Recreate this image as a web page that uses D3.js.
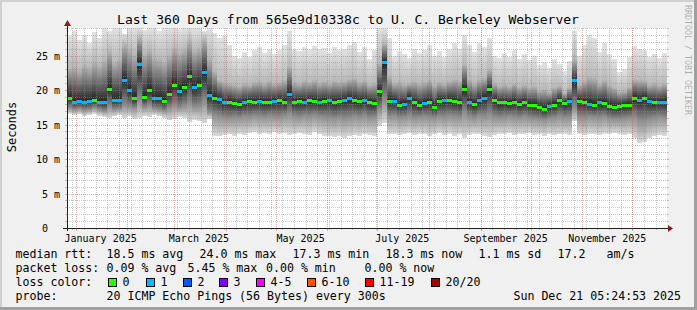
<!DOCTYPE html>
<html><head><meta charset="utf-8">
<script src="https://cdn.jsdelivr.net/npm/d3@7"></script>
<style>html,body{margin:0;padding:0;background:#f0f0f0;} svg{display:block;} text{white-space:pre;}</style>
</head><body>
<script>
// ---------------- data ----------------
const startTime = Date.UTC(2024, 11, 26, 20, 0, 0);   // left edge of the 360 day window
const spanDays = 360;
const stepDays = 3;                                      // one sample every 3 days

// median rtt (ms)
const median = [
 18.9,18.3,18.4,18.3,18.4,18.6,18.3,18.2,20.2,18.6,
 18.6,21.5,20.0,18.8,23.8,19.0,20.0,18.8,18.8,18.4,
 19.5,20.8,19.8,20.4,22.0,20.4,20.8,22.6,19.3,18.9,
 18.7,18.2,18.3,18.1,18.0,18.2,18.4,18.3,18.4,18.3,
 18.2,18.4,18.5,18.3,19.5,18.3,18.4,18.3,18.5,18.4,
 18.3,18.4,18.5,18.3,18.4,18.6,18.8,18.5,18.4,18.5,
 18.3,18.1,19.8,24.0,18.4,18.4,17.9,18.0,18.9,18.2,
 17.8,18.1,18.3,17.6,18.4,18.5,18.6,18.4,18.2,20.2,
 18.3,18.0,18.5,18.9,20.1,18.6,18.2,18.2,18.1,18.3,
 18.0,18.2,17.9,17.8,17.6,17.3,17.7,17.9,18.6,18.1,
 18.4,21.4,18.4,18.3,18.0,17.8,18.2,18.1,17.7,17.6,
 17.7,17.8,17.9,18.9,18.6,18.9,18.4,18.2,18.3,18.3
];
// lost pings per sample (of 20)
const loss = [
 0,1,1,1,1,0,1,1,0,1,
 1,1,1,0,1,0,0,1,1,0,
 0,0,1,0,0,1,0,1,1,0,
 1,1,0,0,0,1,0,0,1,0,
 0,1,0,0,1,0,0,1,0,0,
 1,0,1,0,0,1,1,0,0,1,
 0,0,0,1,0,1,0,1,1,0,
 0,1,0,0,0,1,0,0,0,0,
 1,0,1,1,0,0,0,0,0,0,
 0,0,0,0,0,0,1,0,0,0,
 1,1,0,0,1,0,1,0,0,0,
 0,0,0,0,1,0,1,0,1,1
];
// smoke: highest ping (ms)
const smokeHi = [
 27.8,28.5,27.2,28.0,26.8,28.4,27.5,29.0,28.6,29.0,
 29.0,28.2,29.0,29.0,29.0,28.7,29.0,29.0,28.5,29.0,
 29.0,29.0,28.8,29.0,29.0,29.0,29.0,28.6,29.0,28.3,
 27.5,27.8,26.5,25.0,24.6,25.5,24.8,25.8,26.2,25.4,
 26.0,25.2,25.8,26.5,28.6,26.0,25.6,26.2,25.8,26.4,
 25.9,26.1,25.4,26.3,25.8,26.0,26.6,27.0,25.5,26.2,
 24.5,25.8,29.0,29.0,27.5,25.0,25.6,25.2,24.6,26.0,
 25.4,25.8,26.5,25.0,25.6,24.8,25.9,26.8,26.0,28.0,
 26.5,25.5,26.8,26.2,27.5,25.0,24.6,25.4,24.8,25.8,
 24.5,25.2,24.3,25.0,23.6,24.0,23.2,24.5,23.8,22.8,
 24.2,28.5,25.0,26.5,28.0,27.6,25.5,26.8,25.2,24.5,
 22.6,23.0,24.8,26.4,26.0,25.8,24.8,25.3,24.6,25.4
];
// smoke: upper quartile ping (ms)
const smokeUp = [
 23.2,23.6,23.0,23.8,23.4,24.2,23.7,24.4,25.7,24.2,
 24.6,26.7,26.0,25.2,27.7,25.4,26.0,24.8,24.6,24.2,
 25.2,26.2,25.6,26.0,27.2,25.8,26.2,27.4,24.7,22.8,
 21.5,21.2,21.0,20.8,20.6,21.0,20.8,21.2,21.3,21.0,
 21.4,21.0,21.2,21.5,23.5,21.2,21.0,21.4,21.2,21.5,
 21.1,21.3,21.0,21.4,21.2,21.3,21.6,21.8,21.2,21.4,
 20.8,21.0,24.0,26.8,22.0,21.0,21.2,20.9,21.0,21.3,
 21.0,21.2,21.5,20.8,21.2,20.9,21.3,21.6,21.4,23.8,
 21.6,21.0,21.6,21.8,23.0,21.0,20.6,20.8,20.6,21.0,
 20.5,20.8,20.4,20.6,20.0,20.2,19.8,20.4,20.6,19.6,
 20.4,24.5,20.8,21.4,22.0,21.8,21.0,21.5,20.8,20.4,
 19.8,19.9,20.5,21.6,21.5,21.4,20.8,21.0,20.7,21.0
];
// smoke: lower quartile ping (ms)
const smokeDn = [
 17.4,17.2,17.3,17.1,17.2,17.4,17.2,17.0,17.6,17.2,
 17.3,17.8,17.6,17.4,18.5,17.5,17.8,17.3,17.2,17.0,
 17.4,17.8,17.5,17.7,18.2,17.6,17.7,18.4,16.8,16.4,
 16.2,16.0,15.9,16.1,16.0,16.2,16.1,16.3,16.2,16.1,
 16.3,16.2,16.1,16.3,16.6,16.2,16.1,16.3,16.2,16.4,
 16.2,16.1,16.0,15.9,16.1,15.9,16.0,16.2,16.1,16.3,
 16.0,16.1,17.2,18.5,16.2,16.3,16.0,16.1,16.3,16.0,
 16.1,16.2,16.1,16.0,16.2,16.1,16.3,16.2,16.1,16.8,
 16.2,16.0,16.3,16.2,16.5,16.1,16.0,16.1,16.2,16.1,
 16.0,16.2,16.0,15.9,15.8,15.7,15.9,16.0,16.2,16.0,
 16.1,17.4,16.1,16.0,16.2,16.1,16.0,16.2,15.9,15.8,
 15.8,15.9,16.0,16.1,15.6,15.5,15.8,16.0,16.1,16.0
];
// smoke: lowest ping (ms)
const smokeLo = [
 16.6,16.4,16.5,16.2,16.4,16.6,16.3,16.1,15.9,16.2,
 16.4,16.0,16.2,15.8,16.0,16.3,16.1,16.4,16.2,16.0,
 15.6,15.8,16.1,15.9,15.4,15.7,15.5,15.2,15.8,13.4,
 13.3,13.5,13.6,13.4,13.7,13.5,13.8,13.9,13.7,13.8,
 13.6,13.9,13.7,13.8,13.5,13.6,13.8,13.7,13.5,13.9,
 13.6,13.4,13.3,13.2,13.4,13.1,13.3,13.5,13.4,13.6,
 13.5,13.4,14.8,15.2,13.6,13.7,13.5,13.6,13.8,13.5,
 13.7,13.6,13.4,13.6,13.8,13.5,13.7,13.4,13.6,13.0,
 13.5,13.7,13.6,13.4,13.2,13.5,13.7,13.6,13.8,13.5,
 13.7,13.6,13.8,13.5,13.6,13.4,13.7,13.5,13.6,13.7,
 13.5,15.5,13.6,13.5,13.7,13.6,13.5,13.7,13.6,13.8,
 13.7,13.5,13.6,13.0,12.3,12.4,13.0,13.3,13.5,13.4
];

const yMax = 29;
const yTicks = [0, 5, 10, 15, 20, 25];
const yTickLabels = [" 0", " 5 m", "10 m", "15 m", "20 m", "25 m"];
const monthLabels = ["January 2025", "March 2025", "May 2025", "July 2025", "September 2025", "November 2025"];
const monthLabelMonths = [0, 2, 4, 6, 8, 10];
const lossLabels = ["0", "1", "2", "3", "4-5", "6-10", "11-19", "20/20"];
const lossColors = ["#26ff00", "#00b8ff", "#0059ff", "#7e00ff", "#ff00ff", "#ff5500", "#ff0000", "#a10000"];

const title = "Last 360 Days from 565e9d10338c to U. C. Berkeley Webserver";
const statRtt = ["median rtt:", "18.5 ms avg", "24.0 ms max", "17.3 ms min", "18.3 ms now", "1.1 ms sd", "17.2", "am/s"];
const statLoss = ["packet loss:", "0.09 % avg", "5.45 % max", "0.00 % min", "0.00 % now"];
const probeText = ["probe:", "20 ICMP Echo Pings (56 Bytes) every 300s"];
const stampText = "Sun Dec 21 05:24:53 2025";

// ---------------- drawing ----------------
const W = 697, H = 310;
const L = 67, R = 667, T = 28, B = 228;
const DAY = 86400000;
const FONT = "DejaVu Sans Mono, monospace";

const svg = d3.select("body").append("svg").attr("width", W).attr("height", H);

// background + rrdtool shade frame
svg.append("rect").attr("width", W).attr("height", H).attr("fill", "#f0f0f0");
svg.append("path").attr("d", `M0,0H${W}V2H2V${H}H0Z`).attr("fill", "#d0d0d0");
svg.append("path").attr("d", `M${W},0V${H}H0V${H-3}H${W-3}V0Z`).attr("fill", "#a0a0a0");

const x = d3.scaleUtc().domain([new Date(startTime), new Date(startTime + spanDays * DAY)]).range([L, R]);
const y = d3.scaleLinear().domain([0, yMax]).range([B, T]);

svg.append("rect").attr("x", L).attr("y", T).attr("width", R - L).attr("height", B - T).attr("fill", "#ffffff");

const defs = svg.append("defs");
function grad(id, c1, c2) {
  const g = defs.append("linearGradient").attr("id", id).attr("x1", 0).attr("y1", 0).attr("x2", 0).attr("y2", 1);
  g.append("stop").attr("offset", "0%").attr("stop-color", c1);
  g.append("stop").attr("offset", "100%").attr("stop-color", c2);
}
grad("gA", "#e2e2e2", "#b9b9b9");
grad("gB", "#b9b9b9", "#262626");
grad("gC", "#262626", "#8e8e8e");
grad("gD", "#8e8e8e", "#dadada");

const samples = median.map((m, i) => ({
  t0: new Date(startTime + i * stepDays * DAY),
  t1: new Date(startTime + (i + 1) * stepDays * DAY),
  med: m, loss: loss[i], hi: smokeHi[i], up: smokeUp[i], dn: smokeDn[i], lo: smokeLo[i]
}));

const smoke = svg.append("g").attr("shape-rendering", "crispEdges");
const bands = [["hi", "up", "gA"], ["up", "med", "gB"], ["med", "dn", "gC"], ["dn", "lo", "gD"]];
bands.forEach(([a, b, g]) => {
  smoke.selectAll(null).data(samples).enter().append("rect")
    .attr("x", d => x(d.t0))
    .attr("width", d => x(d.t1) - x(d.t0))
    .attr("y", d => y(d[a]))
    .attr("height", d => Math.max(0, y(d[b]) - y(d[a])))
    .attr("fill", `url(#${g})`);
});

// grid
const grid = svg.append("g").attr("shape-rendering", "crispEdges").attr("stroke-width", 1);
const minorCol = "rgba(144,144,144,0.5)", majorCol = "rgba(224,80,80,0.5)";
d3.range(1, yMax + 1).forEach(v => {
  const yy = Math.round(y(v)) + 0.5;
  const major = v % 5 === 0;
  grid.append("line").attr("x1", L).attr("x2", R).attr("y1", yy).attr("y2", yy)
    .attr("stroke", major ? majorCol : minorCol).attr("stroke-dasharray", "1,1");
  grid.append("line").attr("x1", L - 2).attr("x2", L).attr("y1", yy).attr("y2", yy)
    .attr("stroke", major ? majorCol : minorCol);
  grid.append("line").attr("x1", R).attr("x2", R + 2).attr("y1", yy).attr("y2", yy)
    .attr("stroke", major ? majorCol : minorCol);
});
const domain = x.domain();
d3.utcMonday.range(domain[0], domain[1]).forEach(d => {
  const xx = Math.round(x(d)) + 0.5;
  grid.append("line").attr("x1", xx).attr("x2", xx).attr("y1", T).attr("y2", B)
    .attr("stroke", minorCol).attr("stroke-dasharray", "1,1");
  grid.append("line").attr("x1", xx).attr("x2", xx).attr("y1", B).attr("y2", B + 2).attr("stroke", minorCol);
});
d3.utcMonth.range(domain[0], domain[1]).forEach(d => {
  const xx = Math.round(x(d)) + 0.5;
  grid.append("line").attr("x1", xx).attr("x2", xx).attr("y1", T).attr("y2", B)
    .attr("stroke", majorCol).attr("stroke-dasharray", "1,1");
  grid.append("line").attr("x1", xx).attr("x2", xx).attr("y1", B).attr("y2", B + 3).attr("stroke", majorCol);
});

// median marks coloured by loss
svg.append("g").attr("shape-rendering", "crispEdges").selectAll(null).data(samples).enter().append("rect")
  .attr("x", d => x(d.t0))
  .attr("width", d => x(d.t1) - x(d.t0))
  .attr("y", d => Math.round(y(d.med)) - 1)
  .attr("height", 3)
  .attr("fill", d => lossColors[d.loss]);

// axes
const ax = svg.append("g").attr("shape-rendering", "crispEdges");
ax.append("line").attr("x1", L - 4).attr("x2", R + 1).attr("y1", B + 0.5).attr("y2", B + 0.5).attr("stroke", "#202020");
ax.append("line").attr("x1", L + 0.5).attr("x2", L + 0.5).attr("y1", B + 3).attr("y2", T - 2).attr("stroke", "#202020");
svg.append("path").attr("d", `M${R + 1},${B - 3}L${R + 6},${B + 0.5}L${R + 1},${B + 4}Z`).attr("fill", "#802020");
svg.append("path").attr("d", `M${L - 3},${T - 2}L${L + 0.5},${T - 8}L${L + 4},${T - 2}Z`).attr("fill", "#802020");

// y labels
svg.append("g").selectAll(null).data(yTicks).enter().append("text")
  .attr("x", 36).attr("y", d => Math.round(y(d)) + 4)
  .attr("font-family", FONT).attr("font-size", 10).attr("fill", "#000")
  .text((d, i) => yTickLabels[i]);

// x labels (centred half a month after the month start)
svg.append("g").selectAll(null).data(monthLabels).enter().append("text")
  .attr("x", (d, i) => x(new Date(Date.UTC(2025, monthLabelMonths[i], 16))))
  .attr("y", 241.5).attr("text-anchor", "middle")
  .attr("font-family", FONT).attr("font-size", 10).attr("fill", "#000")
  .text(d => d);

// title, unit, watermark
svg.append("text").attr("x", 348).attr("y", 23.5).attr("text-anchor", "middle")
  .attr("font-family", FONT).attr("font-size", 13).text(title);
svg.append("text").attr("transform", "translate(15.5,127) rotate(-90)").attr("text-anchor", "middle")
  .attr("font-family", FONT).attr("font-size", 12).text("Seconds");
svg.append("text").attr("transform", "translate(684.5,5) rotate(90)")
  .attr("font-family", FONT).attr("font-size", 8.3).attr("fill", "#000").attr("fill-opacity", 0.3)
  .text("RRDTOOL / TOBI OETIKER");

// legend
const lg = svg.append("g").attr("font-family", FONT).attr("font-size", 11.6).attr("fill", "#000");
const rttX = [15.5, 106.5, 199.5, 292.5, 385.5, 478.5, 557.5, 606.5];
statRtt.forEach((s, i) => lg.append("text").attr("x", rttX[i]).attr("y", 258).text(s));
const lossX = [15.5, 106.5, 187.5, 266, 364.5];
statLoss.forEach((s, i) => lg.append("text").attr("x", lossX[i]).attr("y", 272).text(s));
lg.append("text").attr("x", 15.5).attr("y", 286).text("loss color:");
const boxX = [108, 146, 183, 219, 256, 307, 365, 431];
lossLabels.forEach((s, i) => {
  lg.append("rect").attr("x", boxX[i] + 0.5).attr("y", 278.5).attr("width", 8).attr("height", 8)
    .attr("fill", lossColors[i]).attr("stroke", "#000").attr("stroke-width", 1);
  lg.append("text").attr("x", boxX[i] + 14.5).attr("y", 286).text(s);
});
lg.append("text").attr("x", 15.5).attr("y", 300).text(probeText[0]);
lg.append("text").attr("x", 106.5).attr("y", 300).text(probeText[1]);
lg.append("text").attr("x", 681).attr("y", 300).attr("text-anchor", "end").text(stampText);
</script>
</body></html>
